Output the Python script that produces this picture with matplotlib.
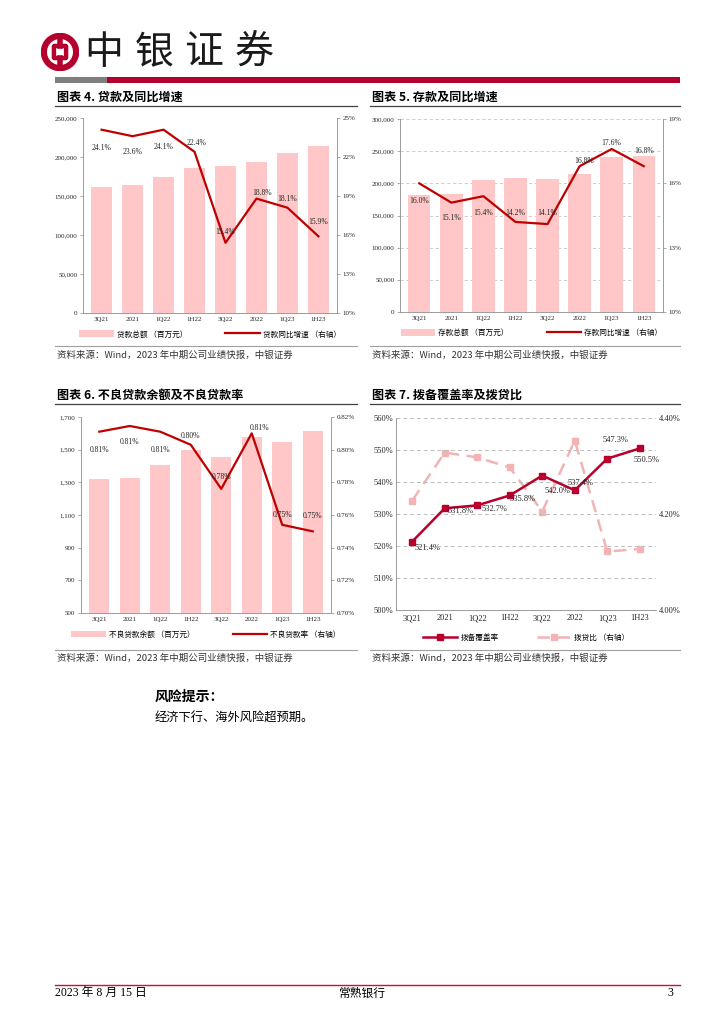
import numpy as np
import matplotlib
matplotlib.use('Agg')
import matplotlib.pyplot as plt
from matplotlib.patches import Circle, Rectangle, FancyBboxPatch, Patch
from matplotlib.lines import Line2D

W, H = 724, 1024
CN = ['Noto Sans CJK SC', 'DejaVu Sans']
NUM = ['Liberation Serif', 'Noto Sans CJK SC', 'DejaVu Sans']

# ---- data ----
quarters = ['3Q21', '2021', '1Q22', '1H22', '3Q22', '2022', '1Q23', '1H23']

loan_total = [162000, 163500, 174000, 185500, 188000, 194000, 205000, 214500]
loan_yoy = [24.1, 23.6, 24.1, 22.4, 15.4, 18.8, 18.1, 15.9]

deposit_total = [182000, 183000, 205000, 208000, 207500, 214000, 241000, 243000]
deposit_yoy = [16.0, 15.1, 15.4, 14.2, 14.1, 16.8, 17.6, 16.8]

npl_balance = [1322, 1329, 1408, 1496, 1457, 1575, 1549, 1616]
npl_ratio = [0.811, 0.8145, 0.811, 0.803, 0.776, 0.810, 0.754, 0.750]

coverage = [521.4, 531.8, 532.7, 535.8, 542.0, 537.4, 547.3, 550.5]
provision_loan = [4.228, 4.328, 4.318, 4.297, 4.205, 4.353, 4.122, 4.127]

RED = '#c00000'
PINK = '#ffc7c7'
DARK = '#262626'
GRAY = '#8c8c8c'

fig = plt.figure(figsize=(W / 100, H / 100), dpi=100)


def rect(x0, y0, x1, y1):
    return [x0 / W, 1 - y1 / H, (x1 - x0) / W, (y1 - y0) / H]


def ftext(x, y, s, **kw):
    fig.text(x / W, 1 - y / H, s, **kw)


def hline(x0, x1, y, color, lw):
    fig.add_artist(Line2D([x0 / W, x1 / W], [1 - y / H, 1 - y / H], color=color, lw=lw))


def style_axes(ax, ax2, right_spine=True, size=5):
    for s in ['top']:
        ax.spines[s].set_visible(False)
        ax2.spines[s].set_visible(False)
    ax2.spines['left'].set_visible(False)
    ax2.spines['bottom'].set_visible(False)
    ax.spines['right'].set_visible(False)
    for s in ['left', 'bottom']:
        ax.spines[s].set_color(GRAY)
        ax.spines[s].set_linewidth(0.6)
    ax2.spines['right'].set_visible(right_spine)
    ax2.spines['right'].set_color(GRAY)
    ax2.spines['right'].set_linewidth(0.6)
    ax.tick_params(axis='y', length=2, width=0.5, colors=GRAY, labelcolor=DARK, labelsize=size, pad=2)
    ax.tick_params(axis='x', length=0, labelcolor=DARK, labelsize=size, pad=3)
    ax2.tick_params(axis='y', length=2 if right_spine else 0, width=0.5, colors=GRAY,
                    labelcolor=DARK, labelsize=size, pad=2)
    for lab in ax.get_xticklabels() + ax.get_yticklabels() + ax2.get_yticklabels():
        lab.set_family(NUM)


def legend_below(ax, handles, labels, y=-0.11):
    ax.legend(handles, labels, loc='center', bbox_to_anchor=(0.5, y), ncol=2, frameon=False,
              prop={'family': CN, 'size': 5.5}, handlelength=4.5, handleheight=1.0,
              columnspacing=5, handletextpad=0.4)


def bar_line_chart(box, bars, line, ylim, yticks, yfmt, rlim, rticks, rfmt, lab_fmt, offsets,
                   labels, grid=False, width=0.68):
    ax = fig.add_axes(rect(*box))
    x = np.arange(len(quarters))
    ax.bar(x, bars, width=width, color=PINK, zorder=2)
    ax.set_xlim(-0.6, len(quarters) - 0.4)
    ax.set_ylim(*ylim)
    ax.set_yticks(yticks)
    ax.set_yticklabels([yfmt(v) for v in yticks])
    ax.set_xticks(x)
    ax.set_xticklabels(quarters)
    if grid:
        for v in yticks[1:]:
            ax.axhline(v, color='#c8c8c8', lw=0.6, ls=(0, (4, 3)), zorder=1)
    ax2 = ax.twinx()
    ax2.plot(x, line, color=RED, lw=1.6, zorder=3)
    ax2.set_ylim(*rlim)
    ax2.set_yticks(rticks)
    ax2.set_yticklabels([rfmt(v) for v in rticks])
    for i, v in enumerate(line):
        dx, dy = offsets[i]
        ax2.annotate(lab_fmt(v), (i, v), xytext=(dx, dy), textcoords='offset pixels',
                     ha='center', va='center', fontsize=5.5, color=DARK, family=NUM)
    style_axes(ax, ax2)
    legend_below(ax, [Patch(facecolor=PINK, edgecolor='none'), Line2D([], [], color=RED, lw=1.6)],
                 labels)
    return ax, ax2


def run_page():
    # ---- header ----
    logo = fig.add_axes(rect(41, 30, 79, 74))
    logo.set_xlim(-1, 1)
    logo.set_ylim(-1, 1)
    logo.set_aspect('equal')
    logo.axis('off')
    logo_red = '#b3002d'
    logo.add_patch(Circle((0, 0), 0.85, fill=False, ec=logo_red, lw=4.5))
    logo.plot([0, 0], [0.85, 0.3], color=logo_red, lw=4)
    logo.plot([0, 0], [-0.3, -0.85], color=logo_red, lw=4)
    logo.add_patch(FancyBboxPatch((-0.28, -0.28), 0.56, 0.56, boxstyle='round,pad=0.04',
                                  fill=False, ec=logo_red, lw=3.2))
    for i, ch in enumerate('中银证券'):
        ftext(104 + i * 50, 53, ch, family=CN, fontsize=28, color='#1a1a1a', ha='center', va='center')
    fig.add_artist(Rectangle((55 / W, 1 - 83 / H), 52 / W, 6 / H, color='#7f7f7f', lw=0))
    fig.add_artist(Rectangle((107 / W, 1 - 83 / H), 573 / W, 6 / H, color=logo_red, lw=0))

    # ---- section titles and rules ----
    titles = [(57, 97, '图表 4. 贷款及同比增速'), (372, 97, '图表 5. 存款及同比增速'),
              (57, 395, '图表 6. 不良贷款余额及不良贷款率'), (372, 395, '图表 7. 拨备覆盖率及拨贷比')]
    for x, y, s in titles:
        ftext(x, y, s, family=CN, fontsize=8.7, fontweight='bold', color='black', va='center')
    for y in (106, 404):
        hline(55, 357, y, '#404040', 0.9)
        hline(370, 680, y, '#404040', 0.9)
    src = '资料来源：Wind，2023 年中期公司业绩快报，中银证券'
    for y_line, y_txt in ((346, 355), (650, 658)):
        hline(55, 357, y_line, '#a0a0a0', 0.8)
        hline(370, 680, y_line, '#a0a0a0', 0.8)
        ftext(57, y_txt, src, family=CN, fontsize=6.8, color='#333333', va='center', style='italic')
        ftext(372, y_txt, src, family=CN, fontsize=6.8, color='#333333', va='center', style='italic')

    # ---- chart 4: loans ----
    bar_line_chart((83, 118, 337, 313), loan_total, loan_yoy,
                   (0, 250000), np.arange(0, 250001, 50000), lambda v: f'{v:,.0f}',
                   (10, 25), np.arange(10, 26, 3), lambda v: f'{v:.0f}%',
                   lambda v: f'{v:.1f}%',
                   [(0, -18), (0, -16), (0, -17), (2, 9), (0, 11), (6, 6), (0, 9), (0, 14)],
                   ['贷款总额 （百万元）', '贷款同比增速 （右轴）'])

    # ---- chart 5: deposits ----
    bar_line_chart((400, 119, 663, 312), deposit_total, deposit_yoy,
                   (0, 300000), np.arange(0, 300001, 50000), lambda v: f'{v:,.0f}',
                   (10, 19), np.arange(10, 20, 3), lambda v: f'{v:.0f}%',
                   lambda v: f'{v:.1f}%',
                   [(0, -18), (0, -15), (0, -17), (0, 9), (0, 11), (5, 5), (0, 6), (0, 15)],
                   ['存款总额 （百万元）', '存款同比增速 （右轴）'], grid=True, width=0.7)

    # ---- chart 6: NPL ----
    bar_line_chart((81, 417, 331, 613), npl_balance, npl_ratio,
                   (500, 1700), np.arange(500, 1701, 200), lambda v: f'{v:,.0f}',
                   (0.70, 0.82), np.linspace(0.70, 0.82, 7), lambda v: f'{v:.2f}%',
                   lambda v: f'{v:.2f}%',
                   [(0, -18), (0, -16), (0, -18), (0, 9), (0, 12), (8, 5), (0, 10), (0, 15)],
                   ['不良贷款余额 （百万元）', '不良贷款率 （右轴）'], width=0.66)

    # ---- chart 7: coverage ----
    ax = fig.add_axes(rect(396, 418, 656, 610))
    x = np.arange(len(quarters))
    cov_red = '#b8002d'
    cov_pink = '#f2b3b5'
    ax.set_xlim(-0.5, len(quarters) - 0.5)
    ax.set_ylim(500, 560)
    yt = np.arange(500, 561, 10)
    ax.set_yticks(yt)
    ax.set_yticklabels([f'{v:.0f}%' for v in yt])
    ax.set_xticks(x)
    ax.set_xticklabels(quarters)
    for v in yt[1:]:
        ax.axhline(v, color='#bfbfbf', lw=0.7, ls=(0, (4, 3)), zorder=1)
    ax.plot(x, coverage, color=cov_red, lw=1.8, marker='s', ms=4, zorder=4)
    for i, v in enumerate(coverage):
        dx, dy = [(15, -6), (16, -3), (17, -4), (13, -4), (15, -15), (6, 7), (8, 19), (7, -12)][i]
        ax.annotate(f'{v:.1f}%', (i, v), xytext=(dx, dy), textcoords='offset pixels',
                    ha='center', va='center', fontsize=6, color=DARK, family=NUM, zorder=5)
    ax2 = ax.twinx()
    ax2.plot(x, provision_loan, color=cov_pink, lw=1.8, ls=(0, (5, 3)), marker='s', ms=4, zorder=3)
    ax2.set_ylim(4.0, 4.4)
    rt = [4.0, 4.2, 4.4]
    ax2.set_yticks(rt)
    ax2.set_yticklabels([f'{v:.2f}%' for v in rt])
    ax.set_zorder(ax2.get_zorder() + 1)
    ax.patch.set_visible(False)
    style_axes(ax, ax2, right_spine=False, size=6)
    ax.tick_params(axis='y', length=0)
    legend_below(ax, [Line2D([], [], color=cov_red, lw=1.8, marker='s', ms=4),
                      Line2D([], [], color=cov_pink, lw=1.8, ls=(0, (5, 3)), marker='s', ms=4)],
                 ['拨备覆盖率', '拨贷比 （右轴）'], y=-0.145)

    # ---- risk note ----
    ftext(155, 697, '风险提示：', family=CN, fontsize=10, fontweight='bold', color='black', va='center')
    ftext(155, 718, '经济下行、海外风险超预期。', family=CN, fontsize=8.8, color='black', va='center')

    # ---- footer ----
    hline(55, 680, 985, '#c0143c', 1.0)
    ftext(55, 993, '2023 年 8 月 15 日', family=NUM, fontsize=8.5, color='black', va='center')
    ftext(362, 993, '常熟银行', family=CN, fontsize=8.5, color='black', va='center', ha='center')
    ftext(673, 993, '3', family=NUM, fontsize=8.5, color='black', va='center', ha='right')

    fig.savefig('out.png', dpi=100)


if __name__ == '__main__':
    run_page()
